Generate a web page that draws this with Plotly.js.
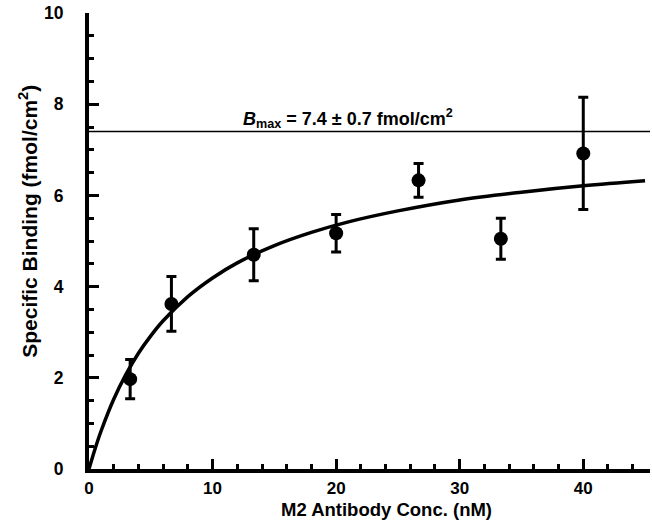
<!DOCTYPE html>
<html><head><meta charset="utf-8">
<script src="https://cdn.plot.ly/plotly-3.0.1.min.js"></script>
<style>html,body{margin:0;padding:0;background:#fff}</style>
</head><body>
<div id="chart" style="width:652px;height:524px"></div>
<script>
// Measured points
var concX = [3.33, 6.67, 13.33, 20, 26.67, 33.33, 40];
var bindY = [1.97, 3.62, 4.70, 5.17, 6.33, 5.05, 6.92];
var bindErr = [0.43, 0.60, 0.57, 0.41, 0.37, 0.45, 1.23];
// Fitted curve
var fitX = [0, 0.5, 1, 2, 3, 4, 5, 6, 8, 10, 12, 15, 18, 21, 25, 30, 35, 40, 45];
var fitY = [0, 0.45, 0.85, 1.53, 2.08, 2.54, 2.92, 3.25, 3.78, 4.19, 4.52, 4.90, 5.19, 5.42, 5.66, 5.90, 6.07, 6.21, 6.32];
var bmax = 7.4;
var xRange = [0, 45.4];
var yRange = [0, 10];
var xTicks = [0, 10, 20, 30, 40];
var yTicks = [0, 2, 4, 6, 8, 10];
var xTitle = 'M2 Antibody Conc. (nM)';
var yTitle = 'Specific Binding (fmol/cm<sup>2</sup>)';

var font = {family: 'Liberation Sans, Arial, sans-serif', color: '#000', size: 17};

var traces = [
  {x: fitX, y: fitY, mode: 'lines', line: {color: '#000', width: 3.5, shape: 'spline'}, hoverinfo: 'skip'},
  {x: xRange, y: [bmax, bmax], mode: 'lines', line: {color: '#000', width: 1.5}},
  {x: concX, y: bindY, mode: 'markers',
   marker: {color: '#000', size: 14, symbol: 'circle'},
   error_y: {type: 'data', array: bindErr, visible: true, color: '#000', thickness: 3, width: 5}}
];

var layout = {
  width: 652, height: 524,
  margin: {l: 89, r: 2, t: 13, b: 55},
  showlegend: false,
  paper_bgcolor: '#fff', plot_bgcolor: '#fff',
  font: font,
  xaxis: {
    range: xRange, tickvals: xTicks, ticktext: xTicks.map(function(v){return '<b>'+v+'</b>';}),
    ticks: 'inside', ticklen: 10, tickwidth: 3, tickcolor: '#000',
    minor: {dtick: 2, ticks: 'inside', ticklen: 5, tickwidth: 3, tickcolor: '#000'},
    showline: true, linewidth: 4, linecolor: '#000', showgrid: false, zeroline: false,
    tickfont: {size: 17, family: font.family}, ticklabelstandoff: 1
  },
  yaxis: {
    range: yRange, tickvals: yTicks, ticktext: yTicks.map(function(v){return '<b>'+v+'</b>';}),
    ticks: 'inside', ticklen: 10, tickwidth: 3, tickcolor: '#000',
    minor: {dtick: 0.5, ticks: 'inside', ticklen: 5, tickwidth: 3, tickcolor: '#000'},
    showline: true, linewidth: 4, linecolor: '#000', showgrid: false, zeroline: false,
    tickfont: {size: 17.5, family: font.family}, ticklabelstandoff: 18
  },
  annotations: [
    {
      x: 21, y: bmax, xref: 'x', yref: 'y', xanchor: 'center', yanchor: 'bottom',
      text: '<b><i>B</i><sub>max</sub> = 7.4 ± 0.7 fmol/cm<sup>2</sup></b>',
      showarrow: false, font: {size: 18, color: '#000'}, yshift: -1
    },
    {
      x: 0.531, y: -0.089, xref: 'paper', yref: 'paper', xanchor: 'center', yanchor: 'middle',
      text: '<b>' + xTitle + '</b>', showarrow: false, font: {size: 18.5, color: '#000'}
    },
    {
      x: -0.109, y: 0.544, xref: 'paper', yref: 'paper', xanchor: 'center', yanchor: 'middle',
      textangle: -90, text: '<b>' + yTitle + '</b>', showarrow: false, font: {size: 21, color: '#000'}
    }
  ]
};

Plotly.newPlot('chart', traces, layout, {displayModeBar: false, staticPlot: true});
</script>
</body></html>
